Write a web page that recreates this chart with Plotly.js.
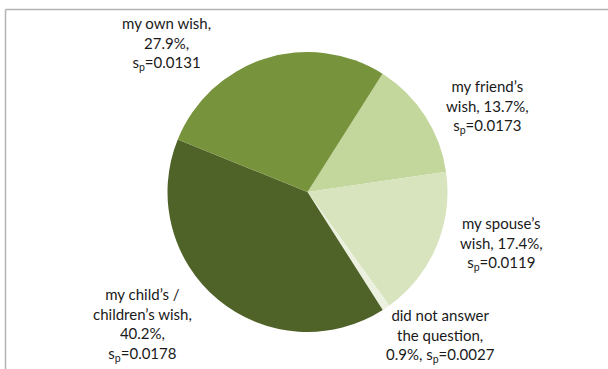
<!DOCTYPE html>
<html>
<head>
<meta charset="utf-8">
<script src="https://cdn.plot.ly/plotly-3.0.1.min.js"></script>
<style>html,body{margin:0;padding:0;background:#fff;}#chart{width:608px;height:369px;}</style>
</head>
<body>
<div id="chart"></div>
<script>
// ---- data ----
const categories = ["my friend’s wish", "my spouse’s wish", "did not answer the question", "my child’s / children’s wish", "my own wish"];
const shares = [13.7, 17.4, 0.9, 40.2, 27.9];
const spValues = ["0.0173", "0.0119", "0.0027", "0.0178", "0.0131"];

// ---- style / layout ----
const colors = ["#C3D69B", "#D7E4BD", "#EBF1DE", "#4F6228", "#77933C"];
const breaksAfter = [[2, 4], [2, 4], [3, 5], [3, 5, 6], [3, 4]];
const labelPos = [[487, 106], [501, 243], [440, 335], [142, 324], [166, 44]];
const W = 608, H = 369;

function buildLabel(i) {
  const words = (categories[i] + ", " + shares[i].toFixed(1) + "%, " + "s<sub>p</sub>=" + spValues[i]).split(" ");
  let out = "";
  words.forEach((w, k) => {
    out += w;
    if (k < words.length - 1) out += breaksAfter[i].includes(k + 1) ? "<br>" : " ";
  });
  return out;
}

const annotations = categories.map((c, i) => ({
  text: buildLabel(i),
  x: labelPos[i][0] / W, y: 1 - labelPos[i][1] / H,
  xref: "paper", yref: "paper", xanchor: "center", yanchor: "middle",
  showarrow: false, align: "center",
  font: {family: "Lato, 'Open Sans', sans-serif", size: 15, color: "#1a1a1a"}
}));

const trace = {
  type: "pie",
  labels: categories,
  values: shares,
  sort: false,
  direction: "clockwise",
  rotation: 32.4,
  marker: {colors: colors, line: {width: 0}},
  textinfo: "none",
  hoverinfo: "label+percent",
  domain: {x: [167.5 / W, 447.5 / W], y: [37 / H, 317 / H]}
};

const layout = {
  width: W, height: H,
  margin: {l: 0, r: 0, t: 0, b: 0},
  paper_bgcolor: "#ffffff",
  showlegend: false,
  annotations: annotations,
  shapes: [
    {type: "line", xref: "paper", yref: "paper", x0: 5.5 / W, x1: 1, y0: 1 - 9.5 / H, y1: 1 - 9.5 / H, line: {color: "#b3b3b3", width: 1.5}},
    {type: "line", xref: "paper", yref: "paper", x0: 5.5 / W, x1: 5.5 / W, y0: 0, y1: 1 - 9.5 / H, line: {color: "#b3b3b3", width: 1.5}}
  ]
};

Plotly.newPlot("chart", [trace], layout, {displayModeBar: false, staticPlot: true});
</script>
</body>
</html>
